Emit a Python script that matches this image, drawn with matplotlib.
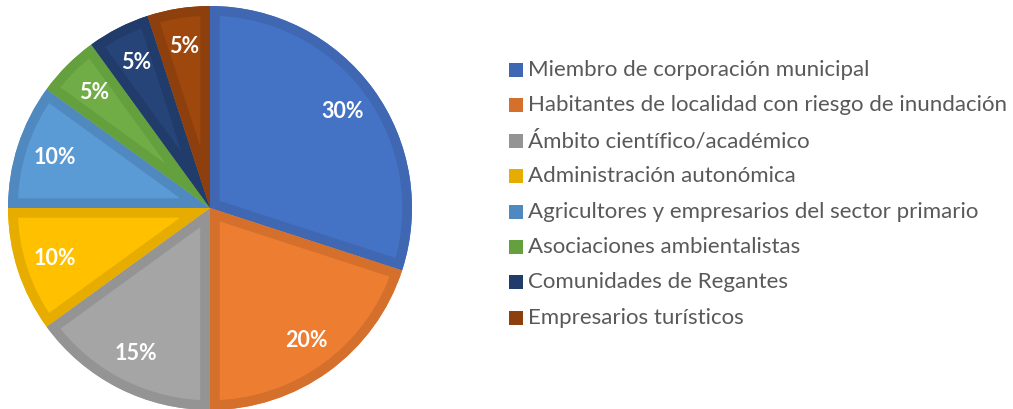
import matplotlib.pyplot as plt
from matplotlib.patches import Rectangle, Wedge

# DATA
categories = ["Miembro de corporación municipal",
              "Habitantes de localidad con riesgo de inundación",
              "Ámbito científico/académico",
              "Administración autonómica",
              "Agricultores y empresarios del sector primario",
              "Asociaciones ambientalistas",
              "Comunidades de Regantes",
              "Empresarios turísticos"]
values = [30, 20, 15, 10, 10, 5, 5, 5]
fill_colors = ["#4472C4", "#ED7D31", "#A5A5A5", "#FFC000",
               "#5B9BD5", "#70AD47", "#264478", "#9E480E"]
edge_colors = ["#3F67B2", "#D5702C", "#949494", "#E6AD00",
               "#5089C0", "#65A03F", "#213C6B", "#8D400D"]

fig = plt.figure(figsize=(10.13, 4.09), dpi=100)
ax = fig.add_axes([8 / 1013, -1 / 409, 404 / 1013, 404 / 409])

wedges, texts, autotexts = ax.pie(values, colors=fill_colors, startangle=90,
                                  counterclock=False, autopct='%1.0f%%',
                                  pctdistance=0.81, radius=1,
                                  wedgeprops=dict(linewidth=0))
# darker inner border like Excel: a thick stroke clipped to the wedge itself
for w, ec in zip(wedges, edge_colors):
    border = Wedge(w.center, w.r, w.theta1, w.theta2, facecolor="none",
                   edgecolor=ec, linewidth=14, zorder=w.get_zorder() + 0.1)
    ax.add_patch(border)
    border.set_clip_path(w)
for t in autotexts:
    t.set_color("white")
    t.set_fontsize(15.5)
    t.set_fontweight("bold")
    t.set_family("Lato")
    t.set_zorder(5)
ax.set_xlim(-1, 1)
ax.set_ylim(-1, 1)
ax.set_aspect("equal")
ax.axis("off")

# LEGEND
W, H = 1013, 409
for i, (lab, ec) in enumerate(zip(categories, edge_colors)):
    yc = 70 + i * 35.4
    fig.patches.append(Rectangle((509 / W, 1 - (yc + 7) / H), 14 / W, 14 / H,
                                 transform=fig.transFigure, facecolor=ec,
                                 edgecolor="none"))
    fig.text(528 / W, 1 - yc / H, lab, fontsize=16, color="#595959",
             family="Lato", va="center", ha="left")

fig.savefig("out.png", dpi=100)
